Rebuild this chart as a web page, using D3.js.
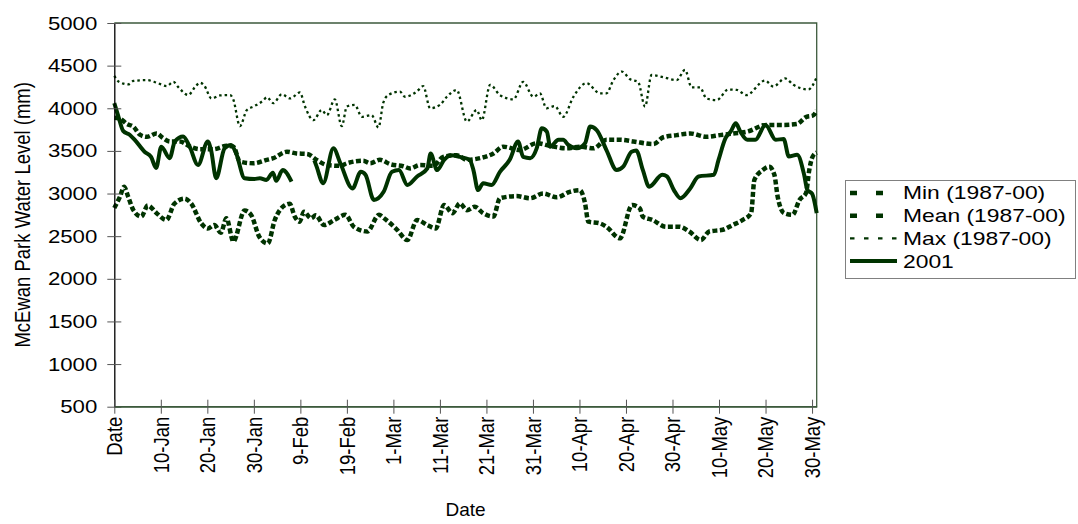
<!DOCTYPE html>
<html>
<head>
<meta charset="utf-8">
<script src="https://cdn.jsdelivr.net/npm/d3@7"></script>
<style>
  body { margin: 0; background: #fff; }
  svg { display: block; font-family: "Liberation Sans", Arial, sans-serif; }
</style>
</head>
<body>
<svg id="chart" width="1078" height="524"></svg>
<script>
// day index counted from the "Date" tick (0 = 31 Dec), every 10 days labelled
const tickDays = [0, 10, 20, 30, 40, 50, 60, 70, 80, 90, 100, 110, 120, 130, 140, 150];
const tickLabels = ["Date", "10-Jan", "20-Jan", "30-Jan", "9-Feb", "19-Feb", "1-Mar", "11-Mar",
  "21-Mar", "31-Mar", "10-Apr", "20-Apr", "30-Apr", "10-May", "20-May", "30-May"];
const levelTicks = [500, 1000, 1500, 2000, 2500, 3000, 3500, 4000, 4500, 5000];

// [day, level mm]
const minLevel = [[0,2830],[1.2,2960],[2.1,3080],[3,2960],[4.1,2805],[5.8,2730],[7.2,2860],[9.1,2770],
  [11.2,2690],[12.9,2880],[15.1,2940],[16.5,2885],[18.7,2650],[20.1,2590],[21.5,2630],[22.9,2540],
  [24.1,2710],[25.6,2440],[28,2800],[29.4,2750],[31.2,2490],[33,2415],[34.5,2690],[36.6,2860],
  [37.7,2880],[38.8,2730],[39.8,2670],[40.8,2785],[42.3,2710],[43.3,2745],[45.1,2630],[47.3,2690],
  [49.7,2750],[51.5,2610],[54.4,2555],[56.9,2750],[58,2710],[60.8,2575],[63,2455],[65.1,2690],
  [67.3,2630],[69.1,2590],[70.9,2865],[72.7,2770],[74.3,2885],[75.8,2805],[77.5,2845],[79.3,2770],
  [81.5,2730],[82.9,2945],[86.5,2970],[89.4,2945],[92.2,3000],[95.1,2955],[97.9,3020],[100.1,3040],
  [101.2,2885],[101.9,2670],[104.4,2650],[105.8,2610],[108.7,2475],[111.3,2865],[113,2825],
  [113.6,2730],[115.7,2690],[118.6,2610],[121.5,2610],[123.6,2555],[126.1,2455],[127.9,2555],
  [130.8,2575],[132.9,2630],[135.1,2690],[136.9,2770],[137.6,3160],[139.4,3275],[140.8,3315],
  [141.9,3220],[142.6,2965],[144,2770],[145.8,2750],[147.3,2925],[148.7,3005],[149.4,3275],
  [150.1,3430],[151,3480]];

const meanLevel = [[0,3890],[1.2,3880],[2.7,3815],[4.1,3785],[5.5,3690],[7,3665],[9.1,3705],
  [10.5,3650],[12,3610],[14.1,3610],[16.3,3550],[18.4,3520],[21.3,3520],[24.2,3560],[25.6,3550],
  [27,3375],[29.9,3355],[32.8,3395],[34.2,3415],[37.1,3490],[39.2,3470],[41.4,3465],[43.5,3395],
  [45.7,3335],[48.5,3325],[50,3355],[53.5,3385],[55,3355],[57.1,3395],[59.3,3345],[62.1,3320],
  [63.6,3295],[65.7,3335],[68.6,3325],[70.7,3430],[73.6,3450],[75.8,3395],[78.6,3415],[81.5,3470],
  [83.6,3550],[87.2,3510],[90.8,3590],[94.4,3550],[97.2,3530],[100.1,3550],[103,3530],[105.8,3630],
  [108.7,3630],[111.6,3610],[115.9,3580],[118,3660],[120.9,3685],[123.8,3705],[127.3,3665],
  [130.2,3685],[133.1,3705],[136,3725],[140.2,3805],[143.8,3805],[146.7,3815],[148.8,3900],
  [150.2,3915],[151,3975]];

const maxLevel = [[0,4380],[1,4310],[3,4280],[4.1,4320],[7,4330],[9.1,4300],[11.3,4260],[12.7,4310],
  [13.8,4245],[15.9,4155],[17.3,4245],[18.4,4300],[19.3,4270],[20.9,4115],[22.7,4150],[24.9,4155],
  [25.6,4100],[27,3790],[28.5,3980],[29.9,4020],[32,4090],[32.8,4130],[34.2,4060],[36,4165],
  [37.8,4115],[39.9,4185],[41,4020],[42.8,3860],[44.6,3980],[45.7,3920],[47.4,4105],[48.9,3790],
  [50,4020],[51.7,4040],[53.2,3900],[55.3,3920],[56.8,3775],[57.8,4060],[58.9,4155],[61.4,4195],
  [62.5,4135],[65,4195],[66.4,4260],[67.9,4000],[70,4040],[71.5,4135],[73.6,4215],[75.8,3845],
  [77.9,3980],[79,3860],[80.8,4275],[82.9,4155],[85.8,4105],[87.9,4310],[90.1,4135],[91.5,4175],
  [92.9,4000],[94.7,4025],[96.5,3900],[98.7,4135],[101.5,4295],[104.4,4175],[105.8,4175],
  [107.3,4330],[109.1,4430],[110.9,4340],[112.6,4310],[114.1,4020],[115.5,4390],[118,4365],
  [120.9,4330],[122.7,4450],[124.1,4245],[125.9,4245],[127.3,4115],[129.5,4095],[132,4220],
  [133.8,4215],[135.9,4155],[139.9,4325],[141.7,4255],[144.2,4350],[146,4275],[149.2,4220],[151,4365]];

// 2001 record, null marks the missing days in early February
const level2001 = [[0,4060],[0.9,3900],[1.9,3735],[3.3,3690],[4.4,3630],[6.5,3490],[7.9,3430],
  [9,3300],[10.1,3550],[11.9,3415],[13,3610],[14.8,3670],[16.2,3550],[18,3335],[20.1,3610],
  [20.8,3510],[21.9,3180],[23.7,3530],[25.1,3570],[26.2,3470],[28,3180],[30.1,3170],[31.3,3180],
  [32.7,3160],[34.1,3245],[34.8,3150],[36.2,3275],[38.1,3140],[40,null],
  [43,3390],[43.5,3315],[44.9,3120],[47.1,3530],[48.6,3355],[51.2,3060],[53,3255],[54,3220],
  [55.8,2925],[57.9,3020],[59.7,3255],[61.2,3275],[63,3100],[65.1,3200],[67.3,3295],[68,3470],
  [69.4,3275],[70.9,3395],[72.3,3450],[74.3,3430],[76.4,3395],[77.2,3275],[78.2,3040],[79.3,3120],
  [81.1,3100],[82.9,3255],[85,3395],[86.8,3610],[87.9,3430],[89.4,3415],[90.8,3530],[91.9,3765],
  [93,3725],[93.7,3550],[95.5,3630],[96.5,3630],[97.6,3570],[99.4,3530],[101.2,3590],[102.3,3785],
  [103.7,3745],[105.8,3510],[108,3275],[109.4,3315],[111.2,3490],[112.2,3505],[113.6,3280],
  [115,3080],[117.8,3220],[118.8,3200],[120.3,3040],[121.7,2945],[123.8,3060],[125.6,3200],
  [128.9,3220],[129.9,3395],[131.4,3650],[132.5,3725],[133.6,3825],[134.6,3725],[136.1,3630],
  [137.8,3630],[140,3805],[142.2,3630],[143.9,3640],[145,3435],[146.8,3455],[148.3,3220],
  [149,3040],[150,3000],[151,2770]];

const seriesNames = ["Min (1987-00)", "Mean (1987-00)", "Max (1987-00)", "2001"];

const green = "#003300";
const font = "Liberation Sans, Arial, sans-serif";
const svg = d3.select("#chart");
const plot = { left: 114.3, right: 816.7, top: 23, bottom: 406.7 };

const x = d3.scaleLinear().domain([0, 151]).range([plot.left, plot.right]);
const y = d3.scaleLinear().domain([500, 5000]).range([plot.bottom, plot.top]);

// plot frame (top/right/bottom in dark grey green)
svg.append("path")
  .attr("d", `M${plot.left},${plot.top}H${plot.right}V${plot.bottom}H${plot.left}`)
  .attr("fill", "none")
  .attr("stroke", "#3d5a3d")
  .attr("stroke-width", 1.3);

const series = [
  { data: minLevel, width: 4.5, dash: "5,2.5", legendDash: "7,19" },
  { data: meanLevel, width: 4.5, dash: "5,2.5", legendDash: "7,19" },
  { data: maxLevel, width: 2.3, dash: "2.5,3", legendDash: "4.5,9.5" },
  { data: level2001, width: 4, dash: null, legendDash: null },
];

const line = d3.line()
  .defined((d) => d[1] !== null)
  .x((d) => x(d[0]))
  .y((d) => y(d[1]))
  .curve(d3.curveMonotoneX);

series.forEach((s) => {
  svg.append("path")
    .attr("d", line(s.data))
    .attr("fill", "none")
    .attr("stroke", green)
    .attr("stroke-width", s.width)
    .attr("stroke-dasharray", s.dash)
    .attr("stroke-linejoin", "round");
});

// y axis
const yAxis = svg.append("g")
  .attr("transform", `translate(${plot.left},0)`)
  .call(d3.axisLeft(y).tickValues(levelTicks).tickFormat(d3.format("d")).tickSize(7).tickSizeOuter(0));
yAxis.select(".domain").attr("stroke", "#000").attr("stroke-width", 1.3);
yAxis.selectAll(".tick line").attr("x2", 7).attr("x1", -7).attr("stroke", "#555");
yAxis.selectAll(".tick text")
  .attr("font-size", 19)
  .attr("font-family", font)
  .attr("fill", "#000")
  .attr("x", 0)
  .attr("transform", "translate(-17,0) scale(1.17,1)");

// x axis
const xAxis = svg.append("g")
  .attr("transform", `translate(0,${plot.bottom})`)
  .call(d3.axisBottom(x).tickValues(tickDays).tickFormat((d, i) => tickLabels[i]).tickSize(7).tickSizeOuter(0));
xAxis.select(".domain").attr("stroke", "#3d5a3d").attr("stroke-width", 1.3);
xAxis.selectAll(".tick line").attr("y1", -7).attr("y2", 7).attr("stroke", "#555");
xAxis.selectAll(".tick text")
  .attr("font-size", 18.5)
  .attr("font-family", font)
  .attr("fill", "#000")
  .attr("text-anchor", "end")
  .attr("transform", "rotate(-90) scale(1,1.15)")
  .attr("x", -10)
  .attr("y", 0)
  .attr("dy", "0.35em");

// axis titles
svg.append("text")
  .attr("x", (plot.left + plot.right) / 2)
  .attr("y", 516)
  .attr("text-anchor", "middle")
  .attr("font-size", 19)
  .text("Date");

svg.append("text")
  .attr("transform", `translate(30,${(plot.top + plot.bottom) / 2}) rotate(-90) scale(1,1.15)`)
  .attr("text-anchor", "middle")
  .attr("font-size", 18.5)
  .text("McEwan Park Water Level (mm)");

// legend
const legend = svg.append("g");
legend.append("rect")
  .attr("x", 845.5).attr("y", 180.5)
  .attr("width", 230).attr("height", 98)
  .attr("fill", "#fff")
  .attr("stroke", "#808080")
  .attr("stroke-width", 1);

series.forEach((s, i) => {
  const ly = 193 + i * 22.7;
  legend.append("line")
    .attr("x1", 850).attr("x2", 897)
    .attr("y1", ly).attr("y2", ly)
    .attr("stroke", green)
    .attr("stroke-width", s.width)
    .attr("stroke-dasharray", s.legendDash);
  legend.append("text")
    .attr("transform", `translate(903,${ly}) scale(1.27,1)`)
    .attr("dy", "0.36em")
    .attr("font-size", 18)
    .text(seriesNames[i]);
});
</script>
</body>
</html>
